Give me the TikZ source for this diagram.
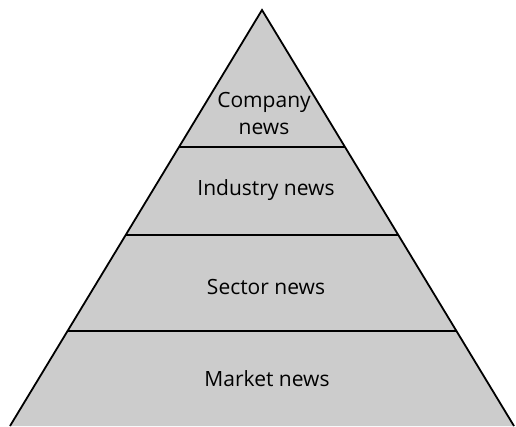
\documentclass[tikz,border=0pt]{standalone}
\usepackage{fontspec}
\setmainfont{Open Sans}
\usetikzlibrary{calc}
\tikzset{
	layer/.style={line width=1.8pt, color=black},
	label/.style={font=\fontsize{21}{24}\selectfont, align=center, inner sep=0pt}
}

\begin{document}
\begin{tikzpicture}[x=1pt, y=1pt]
		%%%%% START %%%%%
		\useasboundingbox (0, 0) rectangle (516, 426);
		
		\coordinate (apex) at (262, 416);
		\coordinate (bl) at (10, 0);
		\coordinate (br) at (514, 0);
		
		\fill[black!20] (bl) -- (apex) -- (br) -- cycle;
		\draw[layer, line join=miter] (bl) -- (apex) -- (br);
		
		% dividers
		\draw[layer] ($(bl)!0.2284!(apex)$) -- ($(br)!0.2284!(apex)$);
		\draw[layer] ($(bl)!0.4591!(apex)$) -- ($(br)!0.4591!(apex)$);
		\draw[layer] ($(bl)!0.6707!(apex)$) -- ($(br)!0.6707!(apex)$);
		
		\node[label] (company) at (264, 312) {Company\\[3pt]news};
		\node[label] (industry) at (266, 236) {Industry news};
		\node[label] (sector) at (266, 139) {Sector news};
		\node[label] (market) at (267, 47) {Market news};
		
		%%%%% END %%%%%
	\end{tikzpicture}
\end{document}
